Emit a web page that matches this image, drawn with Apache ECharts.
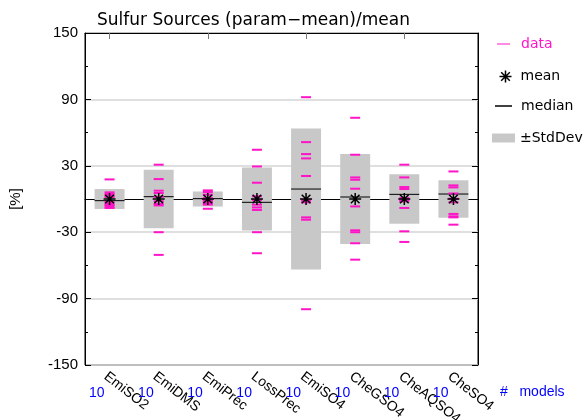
<!DOCTYPE html>
<html>
<head>
<meta charset="utf-8">
<script src="https://cdn.jsdelivr.net/npm/echarts@6/dist/echarts.min.js"></script>
<style>
  html, body { margin: 0; padding: 0; background: #fff; }
  #chart { width: 583px; height: 420px; }
</style>
</head>
<body>
<div id="chart"></div>
<script>
// values
const categories = ['EmiSO2', 'EmiDMS', 'EmiPrec', 'LossPrec', 'EmiSO4', 'CheGSO4', 'CheAQSO4', 'CheSO4'];
const modelCounts = [10, 10, 10, 10, 10, 10, 10, 10];
const meanVals = [0, 0, 0, 0, 0, 0, 0, 0];
const medianVals = [-1.5, 2.1, 0.3, -3, 9, 1.8, 4.2, 4.5];
const stdVals = [9, 26.5, 6.8, 28.4, 63.6, 40.6, 22.3, 16.9];
// one row of model values for each category
const modelValues = [
  [17.7, 6, 4.5, 3, 1.8, -2.7, -4.5, -5.5, -6.7, -8.1],
  [31, 18, 7.5, 5.4, 2, -2, -4.5, -5.8, -30, -50.5],
  [7.8, 6.3, 3.9, 1, 0, -1, -2.1, -3.6, -5.1, -8.8],
  [44.5, 29.4, 14.7, 2.4, -1, -5.1, -7.6, -9.9, -30, -49],
  [92, 51.4, 40.6, 36.7, 20.8, -1, -3, -16.6, -18.7, -99.6],
  [73.4, 40, 19.5, 17.4, 9.3, -6.7, -28.3, -30, -40, -54.8],
  [31, 19.5, 10.8, 9, 1, -1, -2.1, -8.1, -29.2, -38.8],
  [24.9, 12.3, 10.5, 5, 0.3, -3, -13.5, -15.7, -16.6, -23.2]
];
const yMin = -150, yMax = 150, yStep = 60;

const pink = '#ff14c8';
const boxGray = '#c8c8c8';
const asterisk = 'path://M0,-1L0,1M-1,0L1,0M-0.72,-0.72L0.72,0.72M-0.72,0.72L0.72,-0.72';
const sans = 'Liberation Sans';
const legendFont = 'DejaVu Sans';

const boxData = categories.map((c, i) => [i, meanVals[i], stdVals[i]]);
const medianData = categories.map((c, i) => [i, medianVals[i]]);
const meanData = categories.map((c, i) => [i, meanVals[i]]);
const pointData = [];
modelValues.forEach((vals, i) => vals.forEach(v => pointData.push([i, v])));

const chart = echarts.init(document.getElementById('chart'));
const option = {
  animation: false,
  title: {
    text: 'Sulfur Sources (param\u2212mean)/mean',
    left: 92,
    top: 7,
    textStyle: { fontFamily: legendFont, fontSize: 17, fontWeight: 'normal', color: '#000' }
  },
  grid: {
    left: 85, right: 105, top: 33, bottom: 55,
    outerBoundsMode: 'none',
    containLabel: false,
    show: true, borderColor: '#000', borderWidth: 1, backgroundColor: 'transparent'
  },
  legend: [
    {
      left: 497, top: 37, padding: 0, selectedMode: false,
      itemWidth: 13, itemHeight: 1,
      textStyle: { fontFamily: legendFont, fontSize: 14, color: pink, padding: [0, 0, 0, 6] },
      data: [{ name: 'data', icon: 'rect', itemStyle: { color: pink } }]
    },
    {
      left: 497, top: 68, padding: 0, selectedMode: false,
      itemWidth: 12, itemHeight: 12,
      textStyle: { fontFamily: legendFont, fontSize: 14, color: '#000', padding: [0, 0, 0, 4] },
      data: [{ name: 'mean', icon: asterisk, itemStyle: { color: 'none', borderColor: '#000', borderWidth: 1.5 } }]
    },
    {
      left: 495, top: 99, padding: 0, selectedMode: false,
      itemWidth: 17, itemHeight: 1.5,
      textStyle: { fontFamily: legendFont, fontSize: 14, color: '#000', padding: [0, 0, 0, 4] },
      data: [{ name: 'median', icon: 'rect', itemStyle: { color: '#000' } }]
    },
    {
      left: 492, top: 131, padding: 0, selectedMode: false,
      itemWidth: 23, itemHeight: 9,
      textStyle: { fontFamily: legendFont, fontSize: 14, color: '#000' },
      data: [{ name: '\u00b1StdDev', icon: 'rect', itemStyle: { color: boxGray } }]
    }
  ],
  graphic: [
    {
      type: 'text',
      left: 500,
      top: 385,
      style: { text: '#   models', fill: '#0000ff', font: '14px "Liberation Sans"' }
    }
  ],
  xAxis: [
    {
      type: 'category',
      data: categories,
      position: 'bottom',
      boundaryGap: true,
      axisLine: { show: true, lineStyle: { color: '#000' } },
      axisTick: { show: true, inside: true, length: 6, alignWithLabel: true, lineStyle: { color: '#777' } },
      axisLabel: {
        interval: 0,
        rotate: -38,
        margin: 13,
        padding: [0, 0, 0, -5],
        color: '#000',
        fontFamily: sans,
        fontSize: 14
      },
      splitLine: { show: false }
    },
    {
      type: 'category',
      data: categories,
      position: 'bottom',
      offset: 0,
      axisLine: { show: false },
      axisTick: { show: false },
      axisLabel: {
        interval: 0,
        margin: 21,
        align: 'right',
        padding: [0, 5, 0, 0],
        color: '#0000ff',
        fontFamily: sans,
        fontSize: 14,
        formatter: (v, idx) => String(modelCounts[idx])
      },
      splitLine: { show: false }
    },
    {
      type: 'category',
      data: categories,
      position: 'top',
      axisLine: { show: true, lineStyle: { color: '#000' } },
      axisTick: { show: true, inside: true, length: 6, alignWithLabel: true, lineStyle: { color: '#777' } },
      axisLabel: { show: false },
      splitLine: { show: false }
    }
  ],
  yAxis: [
    {
      type: 'value',
      min: yMin, max: yMax, interval: yStep,
      position: 'left',
      name: '[%]',
      nameLocation: 'middle',
      nameRotate: 90,
      nameGap: 62,
      nameTextStyle: { color: '#000', fontFamily: sans, fontSize: 15 },
      axisLine: { show: true, lineStyle: { color: '#000' } },
      axisTick: { show: true, inside: true, length: 6, lineStyle: { color: '#000' } },
      minorTick: { show: true, splitNumber: 2, length: 3, lineStyle: { color: '#000' } },
      axisLabel: { color: '#000', fontFamily: sans, fontSize: 15, margin: 7 },
      splitLine: { show: true, lineStyle: { color: '#d4d4d4', width: 1.5 } }
    },
    {
      type: 'value',
      min: yMin, max: yMax, interval: yStep,
      position: 'right',
      axisLine: { show: true, lineStyle: { color: '#000' } },
      axisTick: { show: true, inside: true, length: 6, lineStyle: { color: '#000' } },
      minorTick: { show: true, splitNumber: 2, length: 3, lineStyle: { color: '#000' } },
      axisLabel: { show: false },
      splitLine: { show: false }
    }
  ],
  series: [
    {
      name: '\u00b1StdDev',
      type: 'custom',
      data: boxData,
      z: 1,
      renderItem: (params, api) => {
        const i = api.value(0), m = api.value(1), s = api.value(2);
        const top = api.coord([i, m + s]);
        const bot = api.coord([i, m - s]);
        const w = api.size([1, 0])[0] * 0.61;
        return {
          type: 'rect',
          shape: { x: top[0] - w / 2, y: top[1], width: w, height: bot[1] - top[1] },
          style: { fill: boxGray }
        };
      }
    },
    {
      name: 'median',
      type: 'custom',
      data: medianData,
      z: 2,
      renderItem: (params, api) => {
        const c = api.coord([api.value(0), api.value(1)]);
        const w = api.size([1, 0])[0] * 0.61;
        return {
          type: 'line',
          shape: { x1: c[0] - w / 2, y1: c[1], x2: c[0] + w / 2, y2: c[1] },
          style: { stroke: '#000', lineWidth: 1 }
        };
      }
    },
    {
      name: 'data',
      type: 'scatter',
      data: pointData,
      z: 3,
      symbol: 'rect',
      symbolSize: [10, 2],
      itemStyle: { color: pink, opacity: 1 }
    },
    {
      name: 'mean',
      type: 'scatter',
      data: meanData,
      z: 4,
      symbol: asterisk,
      symbolSize: 12,
      itemStyle: { color: 'none', borderColor: '#000', borderWidth: 1.5, opacity: 1 }
    }
  ]
};
chart.setOption(option);
</script>
</body>
</html>
